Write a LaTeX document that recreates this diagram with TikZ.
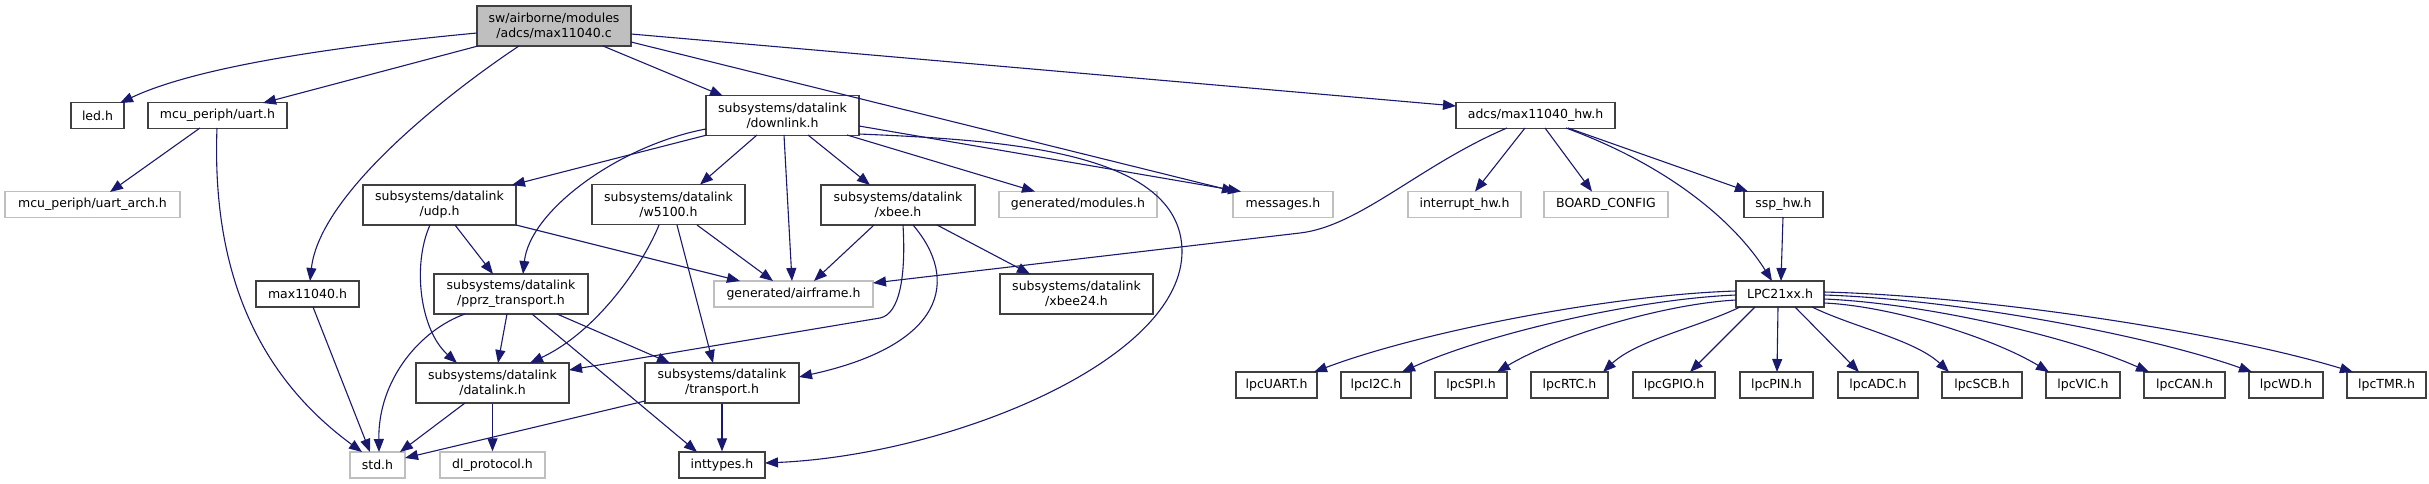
\documentclass[tikz,border=0pt]{standalone}
\usepackage{fontspec}
\setmainfont{DejaVu Sans}
\usetikzlibrary{arrows.meta,calc}
\definecolor{edgeblue}{HTML}{191970}
\definecolor{lightborder}{HTML}{BFBFBF}
\definecolor{darkborder}{HTML}{404040}
\definecolor{mainfill}{HTML}{BFBFBF}
\tikzset{
  box/.style={draw=darkborder, line width=1.2pt, fill=white, inner sep=0pt, align=center,
    font=\fontsize{12.5}{15}\selectfont, minimum height=26pt},
  twoline/.style={minimum height=40pt},
  missing/.style={draw=lightborder},
  mainbox/.style={fill=mainfill},
  edge/.style={draw=edgeblue, line width=1.1pt, -{Triangle[length=13pt,width=10pt]}},
}
\begin{document}
\begin{tikzpicture}[x=1pt,y=-1pt]
\useasboundingbox[fill=white] (0,0) rectangle (2429,484);

% nodes
\node[box, mainbox, twoline, minimum width=154pt] (main) at (554,26) {sw/airborne/modules\\/adcs/max11040.c};
\node[box, minimum width=53pt] (led) at (97.5,115.5) {led.h};
\node[box, minimum width=139pt] (uart) at (217.5,115.5) {mcu\_periph/uart.h};
\node[box, missing, minimum width=175pt] (uartarch) at (92.5,204.5) {mcu\_periph/uart\_arch.h};
\node[box, minimum width=103pt] (max) at (307.5,294) {max11040.h};
\node[box, twoline, minimum width=153pt] (downlink) at (782.5,115.5) {subsystems/datalink\\/downlink.h};
\node[box, twoline, minimum width=153pt] (udp) at (439.5,205) {subsystems/datalink\\/udp.h};
\node[box, twoline, minimum width=153pt] (w5100) at (668.5,204.5) {subsystems/datalink\\/w5100.h};
\node[box, twoline, minimum width=154pt] (xbee) at (898,205) {subsystems/datalink\\/xbee.h};
\node[box, missing, minimum width=158pt] (modules) at (1078,204.5) {generated/modules.h};
\node[box, missing, minimum width=100pt] (messages) at (1283,204.5) {messages.h};
\node[box, missing, minimum width=159pt] (airframe) at (793.5,294) {generated/airframe.h};
\node[box, twoline, minimum width=153pt] (xbee24) at (1076.5,294) {subsystems/datalink\\/xbee24.h};
\node[box, twoline, minimum width=154pt] (pprz) at (511,294) {subsystems/datalink\\/pprz\_transport.h};
\node[box, twoline, minimum width=153pt] (datalink) at (492.5,383) {subsystems/datalink\\/datalink.h};
\node[box, twoline, minimum width=154pt] (transport) at (722,383) {subsystems/datalink\\/transport.h};
\node[box, missing, minimum width=55pt] (std) at (377.5,465) {std.h};
\node[box, missing, minimum width=105pt] (dlp) at (492.5,465) {dl\_protocol.h};
\node[box, minimum width=86pt] (inttypes) at (722,465) {inttypes.h};
\node[box, minimum width=159pt] (hw) at (1535.5,115.5) {adcs/max11040\_hw.h};
\node[box, missing, minimum width=113pt] (interrupt) at (1464.5,204.5) {interrupt\_hw.h};
\node[box, missing, minimum width=124pt] (board) at (1606,204.5) {BOARD\_CONFIG};
\node[box, minimum width=79pt] (ssp) at (1783.5,204.5) {ssp\_hw.h};
\node[box, minimum width=88pt] (lpcx) at (1780,294) {LPC21xx.h};
\node[box, minimum width=81pt] (lUART) at (1276.5,385) {lpcUART.h};
\node[box, minimum width=70pt] (lI2C) at (1376,385) {lpcI2C.h};
\node[box, minimum width=72pt] (lSPI) at (1471,385) {lpcSPI.h};
\node[box, minimum width=77pt] (lRTC) at (1569.5,385) {lpcRTC.h};
\node[box, minimum width=82pt] (lGPIO) at (1674,385) {lpcGPIO.h};
\node[box, minimum width=73pt] (lPIN) at (1776.5,385) {lpcPIN.h};
\node[box, minimum width=80pt] (lADC) at (1878,385) {lpcADC.h};
\node[box, minimum width=80pt] (lSCB) at (1982,385) {lpcSCB.h};
\node[box, minimum width=74pt] (lVIC) at (2083,385) {lpcVIC.h};
\node[box, minimum width=81pt] (lCAN) at (2184.5,385) {lpcCAN.h};
\node[box, minimum width=74pt] (lWD) at (2286,385) {lpcWD.h};
\node[box, minimum width=79pt] (lTMR) at (2386.5,385) {lpcTMR.h};

% edges from main
\draw[edge] ($(main)+(-77,7)$) .. controls (350,45) and (200,65) .. ($(led)+(22.5,-12.5)$);
\draw[edge] ($(main)+(-76,20)$) -- ($(uart)+(45.5,-12.5)$);
\draw[edge] ($(main)+(-35,20)$) .. controls (460,85) and (320,190) .. ($(max)+(2.5,-13)$);
\draw[edge] ($(main)+(49,20)$) -- ($(downlink)+(-59.5,-19.5)$);
\draw[edge] ($(main)+(77,16)$) -- ($(messages)+(-48,-13)$);
\draw[edge] ($(main)+(77,8)$) -- ($(hw)+(-79.5,-9.5)$);

% uart, max
\draw[edge] ($(uart)+(-17.5,12.5)$) -- ($(uartarch)+(17.5,-12.5)$);
\draw[edge] ($(uart)+(-0.5,12.5)$) .. controls (212,260) and (250,370) .. ($(std)+(-15.5,-13)$);
\draw[edge] ($(max)+(5.5,13)$) -- ($(std)+(-7.5,-13)$);

% downlink
\draw[edge] ($(downlink)+(-75.5,19.5)$) -- ($(udp)+(72.5,-20)$);
\draw[edge] ($(downlink)+(-76.5,13.5)$) .. controls (620,145) and (530,210) .. ($(pprz)+(12,-20)$);
\draw[edge] ($(downlink)+(-25.5,19.5)$) -- ($(w5100)+(31.5,-20)$);
\draw[edge] ($(downlink)+(1.5,19.5)$) -- ($(airframe)+(-1.5,-13)$);
\draw[edge] ($(downlink)+(25.5,19.5)$) -- ($(xbee)+(-28,-20)$);
\draw[edge] ($(downlink)+(64.5,19.5)$) -- ($(modules)+(-43,-13)$);
\draw[edge] ($(downlink)+(76.5,10.5)$) -- ($(messages)+(-42,-13)$);
\draw[edge] ($(downlink)+(76.5,18.5)$) .. controls (1000,140) and (1180,150) .. (1182,250)
  .. controls (1184,360) and (950,455) .. ($(inttypes)+(43,-2)$);

% udp
\draw[edge] ($(udp)+(15.5,20)$) -- ($(pprz)+(-18,-20)$);
\draw[edge] ($(udp)+(-9.5,20)$) .. controls (412,265) and (420,330) .. ($(datalink)+(-35.5,-20)$);
\draw[edge] ($(udp)+(76.5,20)$) -- ($(airframe)+(-53.5,-13)$);

% w5100
\draw[edge] ($(w5100)+(-9.5,20.5)$) .. controls (645,260) and (600,330) .. ($(datalink)+(37.5,-20)$);
\draw[edge] ($(w5100)+(8.5,20.5)$) -- ($(transport)+(-9,-20)$);
\draw[edge] ($(w5100)+(28.5,20.5)$) -- ($(airframe)+(-20.5,-13)$);

% xbee
\draw[edge] ($(xbee)+(-24,20)$) -- ($(airframe)+(20.5,-13)$);
\draw[edge] ($(xbee)+(5,20)$) .. controls (906,275) and (900,314) .. (880,318) -- ($(datalink)+(76.5,-13)$);
\draw[edge] ($(xbee)+(15,20)$) .. controls (960,280) and (945,345) .. ($(transport)+(77,-6)$);
\draw[edge] ($(xbee)+(39,20)$) -- ($(xbee24)+(-46.5,-20)$);

% pprz
\draw[edge] ($(pprz)+(-46,20)$) .. controls (420,330) and (378,380) .. ($(std)+(1.5,-13)$);
\draw[edge] ($(pprz)+(-4,20)$) -- ($(datalink)+(5.5,-20)$);
\draw[edge] ($(pprz)+(46,20)$) -- ($(transport)+(-52,-20)$);
\draw[edge] ($(pprz)+(21,20)$) -- ($(inttypes)+(-25,-13)$);

% datalink, transport
\draw[edge] ($(datalink)+(-27.5,20)$) -- ($(std)+(22.5,-13)$);
\draw[edge] (datalink.south) -- (dlp.north);
\draw[edge] ($(transport)+(-77,18)$) -- ($(std)+(27.5,-7)$);
\draw[edge] (transport.south) -- (inttypes.north);

% max11040_hw
\draw[edge] ($(hw)+(-28.5,12.5)$) .. controls (1420,165) and (1360,226) .. (1300,233) -- ($(airframe)+(79.5,-11)$);
\draw[edge] ($(hw)+(-10.5,12.5)$) -- ($(interrupt)+(10.5,-13)$);
\draw[edge] ($(hw)+(9.5,12.5)$) -- ($(board)+(-14,-13)$);
\draw[edge] ($(hw)+(32.5,12.5)$) -- ($(ssp)+(-35.5,-13)$);
\draw[edge] ($(hw)+(30.5,12.5)$) .. controls (1680,170) and (1740,230) .. ($(lpcx)+(-8,-13)$);
\draw[edge] ($(ssp)+(-0.5,12.5)$) -- ($(lpcx)+(1,-13)$);

% LPC21xx fan-out
\draw[edge] ($(lpcx)+(-44,-3)$) .. controls (1609,295) and (1420,332) .. ($(lUART)+(37.5,-13)$);
\draw[edge] ($(lpcx)+(-44,1)$) .. controls (1636,299) and (1486,334) .. ($(lI2C)+(26,-13)$);
\draw[edge] ($(lpcx)+(-44,6)$) .. controls (1664,304) and (1557,336) .. ($(lSPI)+(26,-13)$);
\draw[edge] ($(lpcx)+(-40,13)$) .. controls (1699,327) and (1637,340) .. ($(lRTC)+(33.5,-13)$);
\draw[edge] ($(lpcx)+(-25,13)$) -- ($(lGPIO)+(16,-13)$);
\draw[edge] ($(lpcx)+(-2,13)$) -- ($(lPIN)+(0.5,-13)$);
\draw[edge] ($(lpcx)+(15,13)$) -- ($(lADC)+(-19,-13)$);
\draw[edge] ($(lpcx)+(32,13)$) .. controls (1853,327) and (1915,340) .. ($(lSCB)+(-33,-13)$);
\draw[edge] ($(lpcx)+(44,9)$) .. controls (1892,306) and (1993,338) .. ($(lVIC)+(-34,-13)$);
\draw[edge] ($(lpcx)+(44,5)$) .. controls (1922,303) and (2068,336) .. ($(lCAN)+(-35.5,-13)$);
\draw[edge] ($(lpcx)+(44,1)$) .. controls (1952,299) and (2145,334) .. ($(lWD)+(-34,-13)$);
\draw[edge] ($(lpcx)+(44,-2)$) .. controls (1983,296) and (2221,332) .. ($(lTMR)+(-33.5,-13)$);
\end{tikzpicture}
\end{document}
